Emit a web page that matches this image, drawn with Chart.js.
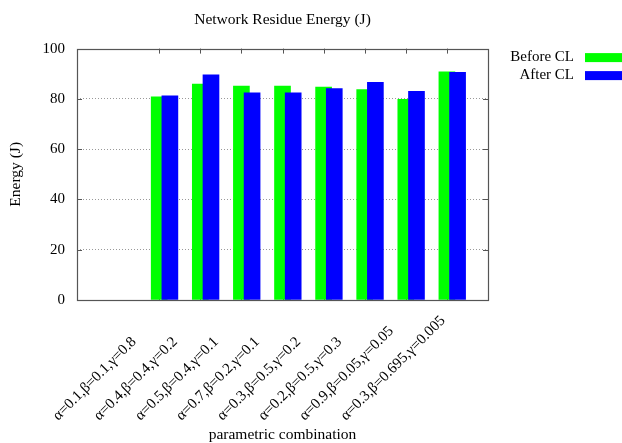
<!DOCTYPE html>
<html>
<head>
<meta charset="utf-8">
<title>Network Residue Energy</title>
<script src="https://cdn.jsdelivr.net/npm/chart.js@4/dist/chart.umd.min.js"></script>
<style>
  html, body { margin: 0; padding: 0; background: #fff; }
  #wrap { width: 622px; height: 443px; }
</style>
</head>
<body>
<div id="wrap"><canvas id="chart" width="622" height="443"></canvas></div>
<script>
// Parameter combinations (one per bar pair)
const categories = [
  'α=0.1,β=0.1,γ=0.8',
  'α=0.4,β=0.4,γ=0.2',
  'α=0.5,β=0.4,γ=0.1',
  'α=0.7,β=0.2,γ=0.1',
  'α=0.3,β=0.5,γ=0.2',
  'α=0.2,β=0.5,γ=0.3',
  'α=0.9,β=0.05,γ=0.05',
  'α=0.3,β=0.695,γ=0.005'
];
// Residual network energy (J)
const beforeCL = [80.8, 85.9, 85.1, 85.1, 84.7, 83.7, 79.8, 90.8];
const afterCL  = [81.2, 89.6, 82.4, 82.4, 84.1, 86.6, 83.0, 90.6];
const yTickValues = [0, 20, 40, 60, 80, 100];

const FONT = "'Liberation Serif', 'Times New Roman', serif";
const AXIS_COLOR = '#555';
const BAR_W = 16;            // bar thickness in px
const AFTER_SHIFT = 0.26;    // second bar of a pair sits slightly right, overlapping the first

// Plot frame + inward tick marks on all four sides
const framePlugin = {
  id: 'frame',
  beforeDatasetsDraw(chart) {
    const { ctx, chartArea: a, scales: { x, y } } = chart;
    ctx.save();
    ctx.strokeStyle = AXIS_COLOR;
    ctx.lineWidth = 1;
    ctx.beginPath();
    categories.forEach((_, i) => {
      const px = Math.round(x.getPixelForValue(i)) + 0.5;
      ctx.moveTo(px, a.top); ctx.lineTo(px, a.top + 5);
      ctx.moveTo(px, a.bottom); ctx.lineTo(px, a.bottom - 5);
    });
    yTickValues.forEach(v => {
      const py = Math.round(y.getPixelForValue(v)) + 0.5;
      ctx.moveTo(a.left, py); ctx.lineTo(a.left + 5, py);
      ctx.moveTo(a.right, py); ctx.lineTo(a.right - 5, py);
    });
    ctx.stroke();
    ctx.restore();
  },
  afterDatasetsDraw(chart) {
    const { ctx, chartArea: a } = chart;
    ctx.save();
    ctx.strokeStyle = AXIS_COLOR;
    ctx.lineWidth = 1.2;
    ctx.strokeRect(Math.round(a.left) + 0.5, Math.round(a.top) + 0.5,
                   Math.round(a.right - a.left), Math.round(a.bottom - a.top));
    ctx.restore();
  }
};

// Category labels: rotated 45°, each starting below-left of its tick and rising to the right
const categoryLabelPlugin = {
  id: 'categoryLabels',
  afterDraw(chart) {
    const { ctx, chartArea: a, scales: { x } } = chart;
    ctx.save();
    ctx.font = '15px ' + FONT;
    ctx.fillStyle = '#000';
    ctx.textAlign = 'left';
    ctx.textBaseline = 'alphabetic';
    categories.forEach((label, i) => {
      ctx.save();
      ctx.translate(x.getPixelForValue(i) - 101, a.bottom + 121);
      ctx.rotate(-Math.PI / 4);
      ctx.fillText(label, 0, 0);
      ctx.restore();
    });
    ctx.restore();
  }
};

// Key in the top-right corner: label text, then a colour swatch
const keyPlugin = {
  id: 'key',
  afterDraw(chart) {
    const { ctx, chartArea: a } = chart;
    const swatchX = chart.width - 37;
    ctx.save();
    ctx.font = '15px ' + FONT;
    ctx.textAlign = 'right';
    ctx.textBaseline = 'middle';
    chart.data.datasets.forEach((ds, i) => {
      const cy = a.top + 9 + i * 18;
      ctx.fillStyle = '#000';
      ctx.fillText(ds.label, swatchX - 11, cy - 1);
      ctx.fillStyle = ds.backgroundColor;
      ctx.fillRect(swatchX, cy - 4.5, 40, 9);
    });
    ctx.restore();
  }
};

new Chart(document.getElementById('chart'), {
  type: 'bar',
  data: {
    datasets: [
      {
        label: 'Before CL',
        data: beforeCL.map((v, i) => ({ x: i, y: v })),
        backgroundColor: '#00ff00',
        barThickness: BAR_W,
        order: 1
      },
      {
        label: 'After CL',
        data: afterCL.map((v, i) => ({ x: i + AFTER_SHIFT, y: v })),
        backgroundColor: '#0000ff',
        barThickness: BAR_W,
        order: 0
      }
    ]
  },
  options: {
    responsive: false,
    devicePixelRatio: 1,
    animation: false,
    layout: { padding: { right: 134 } },
    datasets: { bar: { grouped: false } },
    plugins: {
      legend: { display: false },
      tooltip: { enabled: false },
      title: {
        display: true,
        text: 'Network Residue Energy (J)',
        fullSize: false,
        color: '#000',
        font: { family: FONT, size: 15.5, weight: 'normal' },
        padding: { top: 10.5, bottom: 19.5 }
      }
    },
    scales: {
      x: {
        type: 'linear',
        min: -2,
        max: 8,
        offset: false,
        grid: { display: false, drawTicks: false },
        border: { display: false },
        ticks: { display: false, stepSize: 1 },
        title: {
          display: true,
          text: 'parametric combination',
          color: '#000',
          font: { family: FONT, size: 15.5 },
          padding: { top: 0, bottom: -1 }
        },
        afterFit(scale) { scale.height = 143; }
      },
      y: {
        min: 0,
        max: 100,
        grid: {
          drawTicks: false,
          color: ctx => (ctx.tick && (ctx.tick.value === 0 || ctx.tick.value === 100)) ? 'rgba(0,0,0,0)' : '#999',
          lineWidth: 1
        },
        border: { display: false, dash: [1, 2] },
        ticks: {
          stepSize: 20,
          padding: 12,
          color: '#000',
          font: { family: FONT, size: 15 }
        },
        title: {
          display: true,
          text: 'Energy (J)',
          color: '#000',
          font: { family: FONT, size: 15.5 },
          padding: { top: 7, bottom: 0 }
        },
        afterFit(scale) { scale.width = 77; }
      }
    }
  },
  plugins: [framePlugin, categoryLabelPlugin, keyPlugin]
});
</script>
</body>
</html>
